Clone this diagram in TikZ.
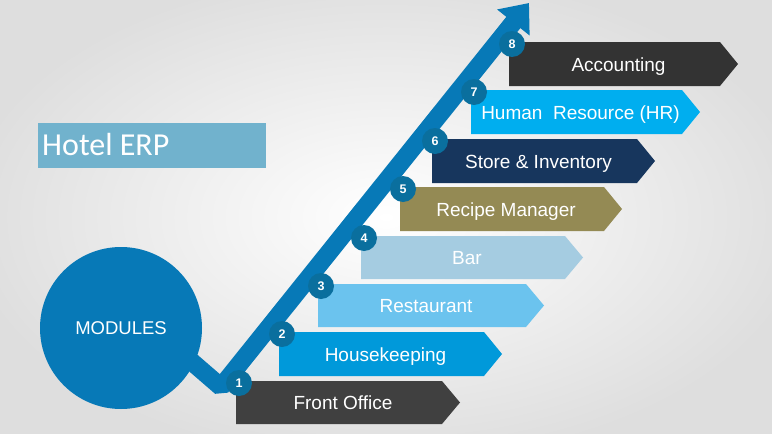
\documentclass[tikz,border=0pt]{standalone}
\usepackage{fontspec}
\setmainfont{Liberation Sans}
\newfontfamily\calibrifont{Carlito}
\usetikzlibrary{arrows.meta}
\definecolor{shaftc}{HTML}{0779B7}
\definecolor{numc}{HTML}{0A6F9E}
\definecolor{titlec}{HTML}{71B2CD}
\definecolor{cA}{HTML}{404040}
\definecolor{cB}{HTML}{0099DA}
\definecolor{cC}{HTML}{6BC3EE}
\definecolor{cD}{HTML}{A5CCE1}
\definecolor{cE}{HTML}{948A54}
\definecolor{cF}{HTML}{17365D}
\definecolor{cG}{HTML}{00AEEF}
\definecolor{cH}{HTML}{333333}
\tikzset{
  bartext/.style={anchor=base, inner sep=0pt, text=white, font=\fontsize{19}{22}\selectfont},
  numdot/.style={circle, fill=numc, minimum size=26pt, inner sep=0pt, text=white, font=\bfseries\fontsize{12.5}{14}\selectfont},
  modcircle/.style={circle, fill=shaftc, minimum size=162pt, inner sep=0pt, text=white, font=\fontsize{18.5}{22}\selectfont},
  shaft/.style={draw=shaftc, line width=18pt, line join=bevel, -{Triangle[length=25pt,width=40pt]}}
}
\begin{document}
\begin{tikzpicture}[x=1pt,y=-1pt]
\useasboundingbox (0,0) rectangle (772,434);
\shade[inner color=white, outer color=black!13] (-40,-30) rectangle (812,464);
% title
\fill[titlec] (38,123) rectangle (266,168);
\node[anchor=base west, inner sep=0pt, text=white, font=\calibrifont\fontsize{32}{36}\selectfont] (title) at (42,155) {Hotel ERP};
% shaft
\coordinate (a) at (155,330);
\coordinate (v) at (221,387);
\coordinate (tip) at (529,3);
\draw[shaft] (a) -- (v) -- (tip);
% modules circle
\node[modcircle] (mod) at (121,328) {MODULES};
% bars
\foreach \i/\l/\t/\r/\b/\c/\txt in {
  1/236/381/442/424/cA/Front Office,
  2/279/332/484/376/cB/Housekeeping,
  3/318/284/526/327/cC/Restaurant,
  4/361/236/565/279/cD/Bar,
  5/400/187/604/231/cE/Recipe Manager,
  6/432/139/637/183/cF/Store \& Inventory,
  7/471/90/682/134/cG/Human~ Resource (HR),
  8/509/42/720/86/cH/Accounting}{
  \fill[\c] (\l,\t) -- (\r,\t) -- ({\r+18},{(\t+\b)/2}) -- (\r,\b) -- (\l,\b) -- cycle;
  \node[bartext] (t\i) at ({(\l+\r)/2+4},{(\t+\b)/2+7}) {\txt};
  \node[numdot] (n\i) at ({\l+3},{\t+2}) {\i};
}
\end{tikzpicture}
\end{document}
